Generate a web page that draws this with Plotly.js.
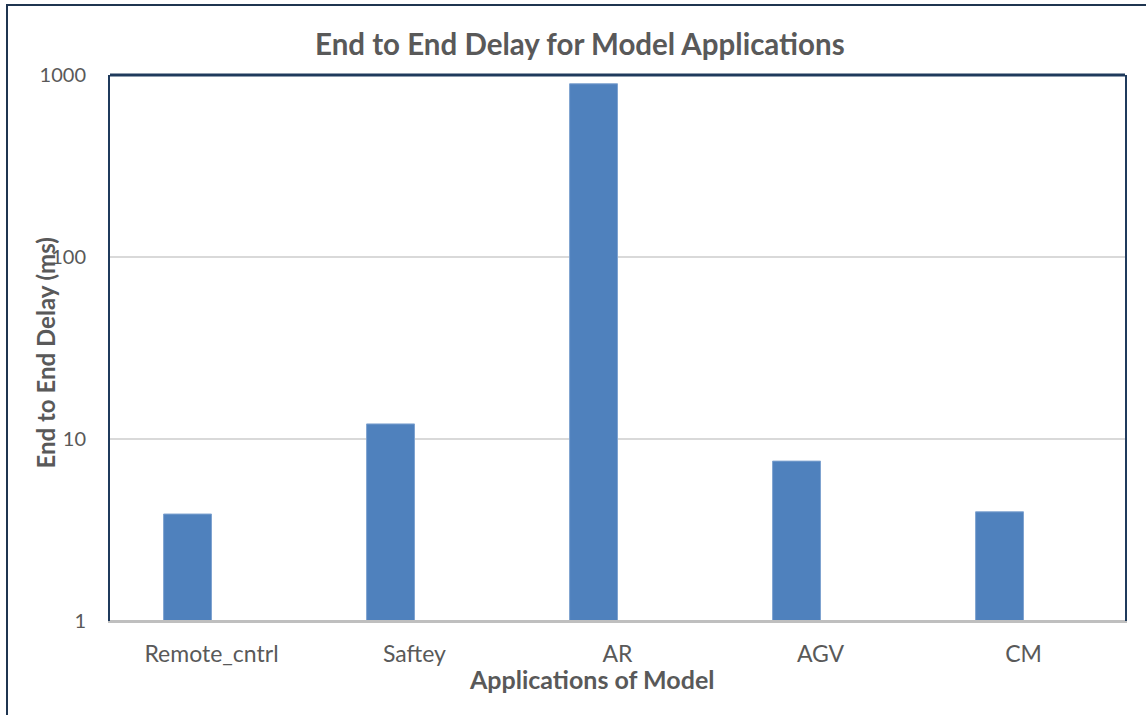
<!DOCTYPE html>
<html>
<head>
<meta charset="utf-8">
<script src="https://cdn.plot.ly/plotly-3.0.1.min.js"></script>
<style>
  html, body { margin: 0; padding: 0; background: #fff; }
  #frame { position: absolute; left: 6px; top: 4px; width: 1140px; height: 711px;
           border-top: 2px solid #1F3550; border-left: 2px solid #1F3550; box-sizing: border-box; pointer-events: none; z-index: 10; }
  #chart { width: 1146px; height: 715px; }
</style>
</head>
<body>
<div id="frame"></div>
<div id="chart"></div>
<script>
const categories = ["Remote_cntrl", "Saftey", "AR", "AGV", "CM"];
const delays = [3.87, 12.1, 895, 7.56, 3.98];
const yTickVals = [1, 10, 100, 1000];
const yTickText = ["1", "10", "100", "1000"];

const FONT = "Lato, 'Open Sans', sans-serif";
const GRAY = "#595959";
const NAVY = "#1F3A5C";
const BARW = 0.236;

const trace = {
  type: "bar",
  x: categories,
  y: delays,
  width: BARW,
  offset: -BARW,
  marker: { color: "#4F81BD", line: { color: "#7FA3D0", width: 1 } },
  hoverinfo: "x+y"
};

const layout = {
  width: 1146, height: 715,
  margin: { l: 110, r: 21, t: 75, b: 94 },
  paper_bgcolor: "#ffffff",
  plot_bgcolor: "#ffffff",
  showlegend: false,
  font: { family: FONT, color: GRAY },
  title: {
    text: "<b>End to End Delay for Model Applications</b>",
    font: { family: FONT, size: 29.5, color: GRAY },
    x: 0.506, xanchor: "center", y: 0.937, yanchor: "middle"
  },
  xaxis: {
    type: "category",
    range: [-0.5, 4.5],
    showgrid: false,
    showline: true, linecolor: "#BFBFBF", linewidth: 2,
    ticks: "", ticklabelstandoff: 11,
    tickfont: { family: FONT, size: 23, color: GRAY },
    automargin: false
  },
  yaxis: {
    type: "log",
    range: [0, 3],
    tickvals: yTickVals,
    ticktext: yTickText,
    showgrid: true, gridcolor: "#D9D9D9", gridwidth: 1.5,
    showline: true, linecolor: NAVY, linewidth: 2, mirror: true,
    zeroline: false,
    ticks: "", ticklabelstandoff: 18,
    tickfont: { family: FONT, size: 20, color: GRAY },
    automargin: false
  },
  annotations: [
    { text: "<b>End to End Delay (ms)</b>", xref: "paper", yref: "paper",
      x: -0.064, y: 0.49, xanchor: "center", yanchor: "middle", textangle: -90,
      showarrow: false, font: { family: FONT, size: 24, color: GRAY } },
    { text: "<b>Applications of Model</b>", xref: "paper", yref: "paper",
      x: 0.474, y: -0.106, xanchor: "center", yanchor: "middle",
      showarrow: false, font: { family: FONT, size: 25, color: GRAY } }
  ],
  shapes: [
    { type: "line", xref: "paper", yref: "paper", x0: 0, x1: 1, y0: 1, y1: 1,
      line: { color: NAVY, width: 3 } },
    { type: "line", xref: "paper", yref: "paper", x0: 0, x1: 1, y0: 0, y1: 0,
      line: { color: "#BFBFBF", width: 2 } }
  ]
};

Plotly.newPlot("chart", [trace], layout, { displayModeBar: false, staticPlot: true });
</script>
</body>
</html>
